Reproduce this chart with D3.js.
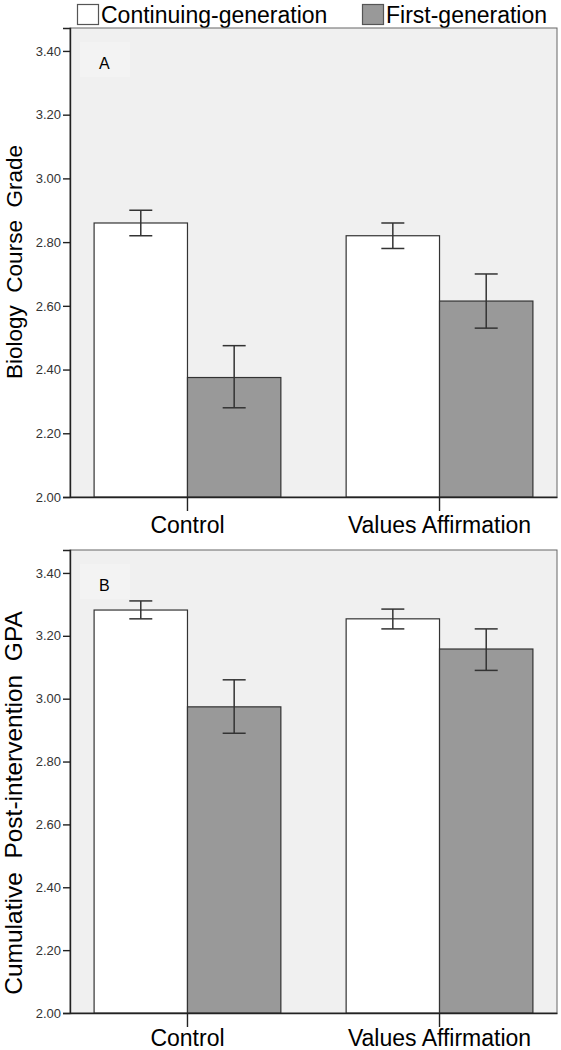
<!DOCTYPE html>
<html>
<head>
<meta charset="utf-8">
<script src="https://cdn.jsdelivr.net/npm/d3@7"></script>
<style>
  html, body { margin: 0; padding: 0; background: #fff; }
  svg { display: block; }
  text { font-family: Arial, "Liberation Sans", sans-serif; }
</style>
</head>
<body>
<div id="chart"></div>
<script>
// ---- Data ----
const categories = ["Control", "Values Affirmation"];
const seriesNames = ["Continuing-generation", "First-generation"];
const seriesColors = ["#ffffff", "#999999"];

// Panel A: Biology course grade
const gradeContinuing   = [2.86, 2.82];
const gradeContinuingLo = [2.82, 2.78];
const gradeContinuingHi = [2.90, 2.86];
const gradeFirst   = [2.375, 2.615];
const gradeFirstLo = [2.28, 2.53];
const gradeFirstHi = [2.475, 2.70];

// Panel B: Cumulative post-intervention GPA
const gpaContinuing   = [3.282, 3.254];
const gpaContinuingLo = [3.254, 3.222];
const gpaContinuingHi = [3.311, 3.285];
const gpaFirst   = [2.974, 3.158];
const gpaFirstLo = [2.89, 3.09];
const gpaFirstHi = [3.06, 3.222];

const yTickValues = [2.0, 2.2, 2.4, 2.6, 2.8, 3.0, 3.2, 3.4];

const panels = [
  { letter: "A", title: "Biology  Course  Grade",
    means: [gradeContinuing, gradeFirst], lo: [gradeContinuingLo, gradeFirstLo], hi: [gradeContinuingHi, gradeFirstHi],
    top: 28, bottom: 497, yMax: 3.472, catY: 533, titleSize: 22.5, titleCenter: 262 },
  { letter: "B", title: "Cumulative  Post-intervention  GPA",
    means: [gpaContinuing, gpaFirst], lo: [gpaContinuingLo, gpaFirstLo], hi: [gpaContinuingHi, gpaFirstHi],
    top: 550, bottom: 1013, yMax: 3.473, catY: 1046, titleSize: 24.5, titleCenter: 803 }
];

// ---- Layout ----
const W = 561, H = 1050;
const left = 70, right = 557;

const svg = d3.select("#chart").append("svg").attr("width", W).attr("height", H);

// Legend
const legend = svg.append("g");
const legendX = [77, 362];
seriesNames.forEach((name, i) => {
  legend.append("rect").attr("x", legendX[i] + 0.5).attr("y", 4.5).attr("width", 21).attr("height", 20)
    .attr("fill", seriesColors[i]).attr("stroke", "#555").attr("stroke-width", 1.2);
  legend.append("text").attr("x", legendX[i] + 24).attr("y", 23)
    .attr("font-size", 23).attr("fill", "#000").text(name);
});

const x0 = d3.scaleBand().domain(categories).range([left, right]).paddingInner(0.259).paddingOuter(0.0956);
const x1 = d3.scaleBand().domain(seriesNames).range([0, x0.bandwidth()]).padding(0);

panels.forEach(p => {
  const y = d3.scaleLinear().domain([2, p.yMax]).range([p.bottom, p.top]);
  const g = svg.append("g");

  // plot background & frame
  g.append("rect").attr("x", left).attr("y", p.top).attr("width", right - left).attr("height", p.bottom - p.top)
    .attr("fill", "#f0f0f0").attr("stroke", "#666").attr("stroke-width", 1);

  // subtle letter box
  g.append("rect").attr("x", left + 10).attr("y", y(3.4) - 9).attr("width", 50).attr("height", 35)
    .attr("fill", "#f3f3f3");
  g.append("text").attr("x", left + 29).attr("y", y(3.4) + 18)
    .attr("font-family", "Carlito, Calibri, 'Open Sans', sans-serif")
    .attr("font-size", 16).attr("fill", "#000").text(p.letter);

  // bars
  categories.forEach((c, ci) => {
    seriesNames.forEach((s, si) => {
      const v = p.means[si][ci];
      const bx = x0(c) + x1(s);
      g.append("rect").attr("x", bx).attr("y", y(v)).attr("width", x1.bandwidth()).attr("height", y(2) - y(v))
        .attr("fill", seriesColors[si]).attr("stroke", "#333").attr("stroke-width", 1.2);
      // error bar
      const cx = bx + x1.bandwidth() / 2;
      const lo = p.lo[si][ci], hi = p.hi[si][ci];
      const eb = g.append("g").attr("stroke", "#333").attr("stroke-width", 1.5);
      eb.append("line").attr("x1", cx).attr("x2", cx).attr("y1", y(lo)).attr("y2", y(hi));
      eb.append("line").attr("x1", cx - 11.5).attr("x2", cx + 11.5).attr("y1", y(lo)).attr("y2", y(lo));
      eb.append("line").attr("x1", cx - 11.5).attr("x2", cx + 11.5).attr("y1", y(hi)).attr("y2", y(hi));
    });
  });

  // y axis
  const yAxis = d3.axisLeft(y).tickValues(yTickValues).tickFormat(d3.format(".2f")).tickSizeOuter(0).tickSize(7).tickPadding(2);
  const ya = g.append("g").attr("transform", `translate(${left},0)`).call(yAxis);
  ya.select(".domain").attr("stroke", "#222").attr("stroke-width", 1.4);
  ya.selectAll(".tick line").attr("stroke", "#222").attr("stroke-width", 1.4);
  ya.selectAll(".tick text").attr("font-size", 13).attr("fill", "#333").attr("font-family", "Arial, 'Liberation Sans', sans-serif");

  // x axis
  const xAxis = d3.axisBottom(x0).tickSize(14).tickSizeOuter(0).tickFormat("");
  const xa = g.append("g").attr("transform", `translate(0,${p.bottom})`).call(xAxis);
  xa.select(".domain").attr("stroke", "#222").attr("stroke-width", 1.6);
  xa.selectAll(".tick line").attr("stroke", "#222").attr("stroke-width", 1.4);
  xa.selectAll(".tick").append("text").attr("y", p.catY - p.bottom).attr("text-anchor", "middle")
    .attr("font-size", 23).attr("fill", "#000").attr("font-family", "Arial, 'Liberation Sans', sans-serif")
    .text(d => d);

  // y title
  g.append("text").attr("transform", `translate(22,${p.titleCenter}) rotate(-90)`)
    .attr("text-anchor", "middle").attr("font-size", p.titleSize).attr("fill", "#000")
    .style("white-space", "pre").attr("xml:space", "preserve").text(p.title);
});
</script>
</body>
</html>
